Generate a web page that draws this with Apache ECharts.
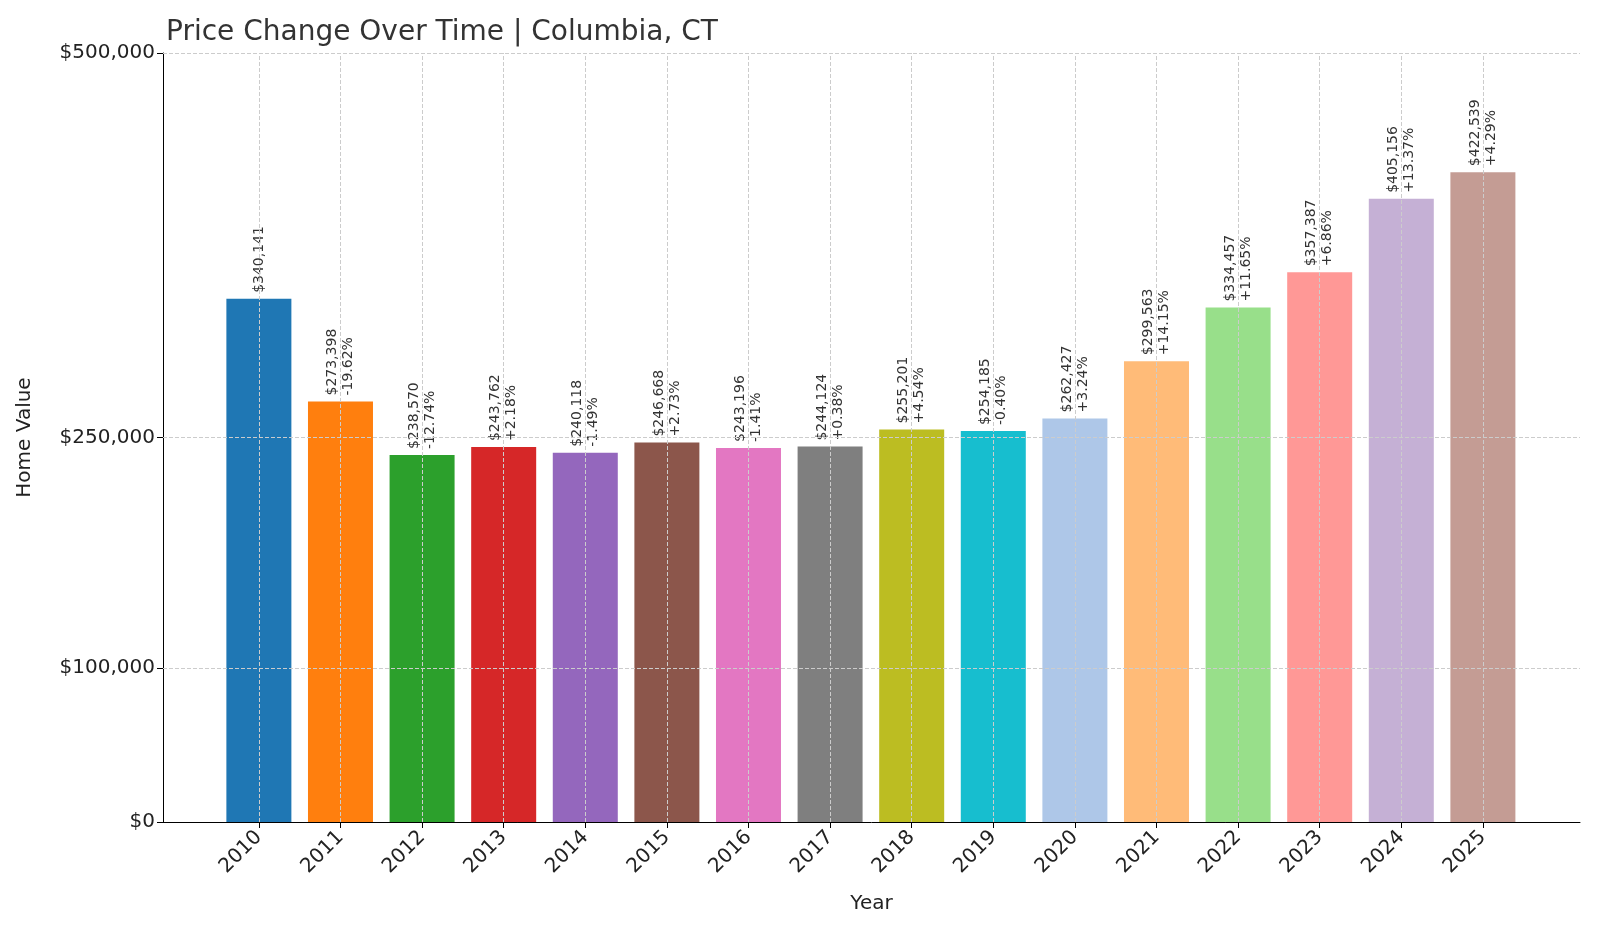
<!DOCTYPE html>
<html>
<head>
<meta charset="utf-8">
<script src="https://cdn.jsdelivr.net/npm/echarts@6/dist/echarts.min.js"></script>
<style>html,body{margin:0;padding:0;background:#fff}#main{width:1600px;height:933px}</style>
</head>
<body>
<div id="main"></div>
<script>
var years = [2010, 2011, 2012, 2013, 2014, 2015, 2016, 2017, 2018, 2019, 2020, 2021, 2022, 2023, 2024, 2025];
var values = [340141, 273398, 238570, 243762, 240118, 246668, 243196, 244124, 255201, 254185, 262427, 299563, 334457, 357387, 405156, 422539];
var changes = ['', '-19.62%', '-12.74%', '+2.18%', '-1.49%', '+2.73%', '-1.41%', '+0.38%', '+4.54%', '-0.40%', '+3.24%', '+14.15%', '+11.65%', '+6.86%', '+13.37%', '+4.29%'];
var yTicks = [0, 100000, 250000, 500000];
var colors = ['#1f77b4', '#ff7f0e', '#2ca02c', '#d62728', '#9467bd', '#8c564b', '#e377c2', '#7f7f7f',
  '#bcbd22', '#17becf', '#aec7e8', '#ffbb78', '#98df8a', '#ff9896', '#c5b0d5', '#c49c94'];

function money(v) { return '$' + v.toLocaleString('en-US'); }

var gridLine = { color: '#cccccc', type: 'dashed', width: 1 };
var markData = yTicks.slice(1).map(function (v) { return { yAxis: v }; })
  .concat(years.map(function (y) { return { xAxis: y }; }));

var myChart = echarts.init(document.getElementById('main'));
var option = {
  animation: false,
  textStyle: { fontFamily: 'DejaVu Sans' },
  title: {
    text: 'Price Change Over Time | Columbia, CT',
    left: 161, top: 14,
    textStyle: { fontSize: 28, fontWeight: 'normal', color: '#333' }
  },
  grid: { left: 163, right: 20, top: 53, bottom: 111 },
  xAxis: {
    type: 'value', min: 2008.825, max: 2026.19,
    name: 'Year', nameLocation: 'middle', nameGap: 72,
    nameTextStyle: { fontSize: 20, color: '#222' },
    axisLine: { lineStyle: { color: '#000' } },
    axisTick: { customValues: years, length: 6, lineStyle: { color: '#000' } },
    axisLabel: { customValues: years, rotate: 45, fontSize: 20, color: '#222', margin: 12, formatter: function (v) { return String(v); } },
    splitLine: { show: false }
  },
  yAxis: {
    type: 'value', min: 0, max: 500000,
    name: 'Home Value', nameLocation: 'middle', nameGap: 128,
    nameTextStyle: { fontSize: 20, color: '#222' },
    axisLine: { show: true, lineStyle: { color: '#000' } },
    axisTick: { show: true, customValues: yTicks, length: 6, lineStyle: { color: '#000' } },
    axisLabel: { customValues: yTicks, fontSize: 20, color: '#222', formatter: money },
    splitLine: { show: false }
  },
  series: [{
    type: 'bar',
    barWidth: 65,
    data: years.map(function (y, i) {
      return { value: [y, values[i]], itemStyle: { color: colors[i] } };
    }),
    label: {
      show: true, position: 'top', rotate: 90, align: 'left', verticalAlign: 'middle', distance: 6,
      fontSize: 14, color: '#333', lineHeight: 16,
      formatter: function (p) {
        var c = changes[p.dataIndex];
        return money(values[p.dataIndex]) + (c ? '\n' + c : '');
      }
    },
    markLine: {
      silent: true, symbol: 'none', label: { show: false },
      lineStyle: gridLine, data: markData
    },
    z: 3
  }]
};
myChart.setOption(option);
</script>
</body>
</html>
